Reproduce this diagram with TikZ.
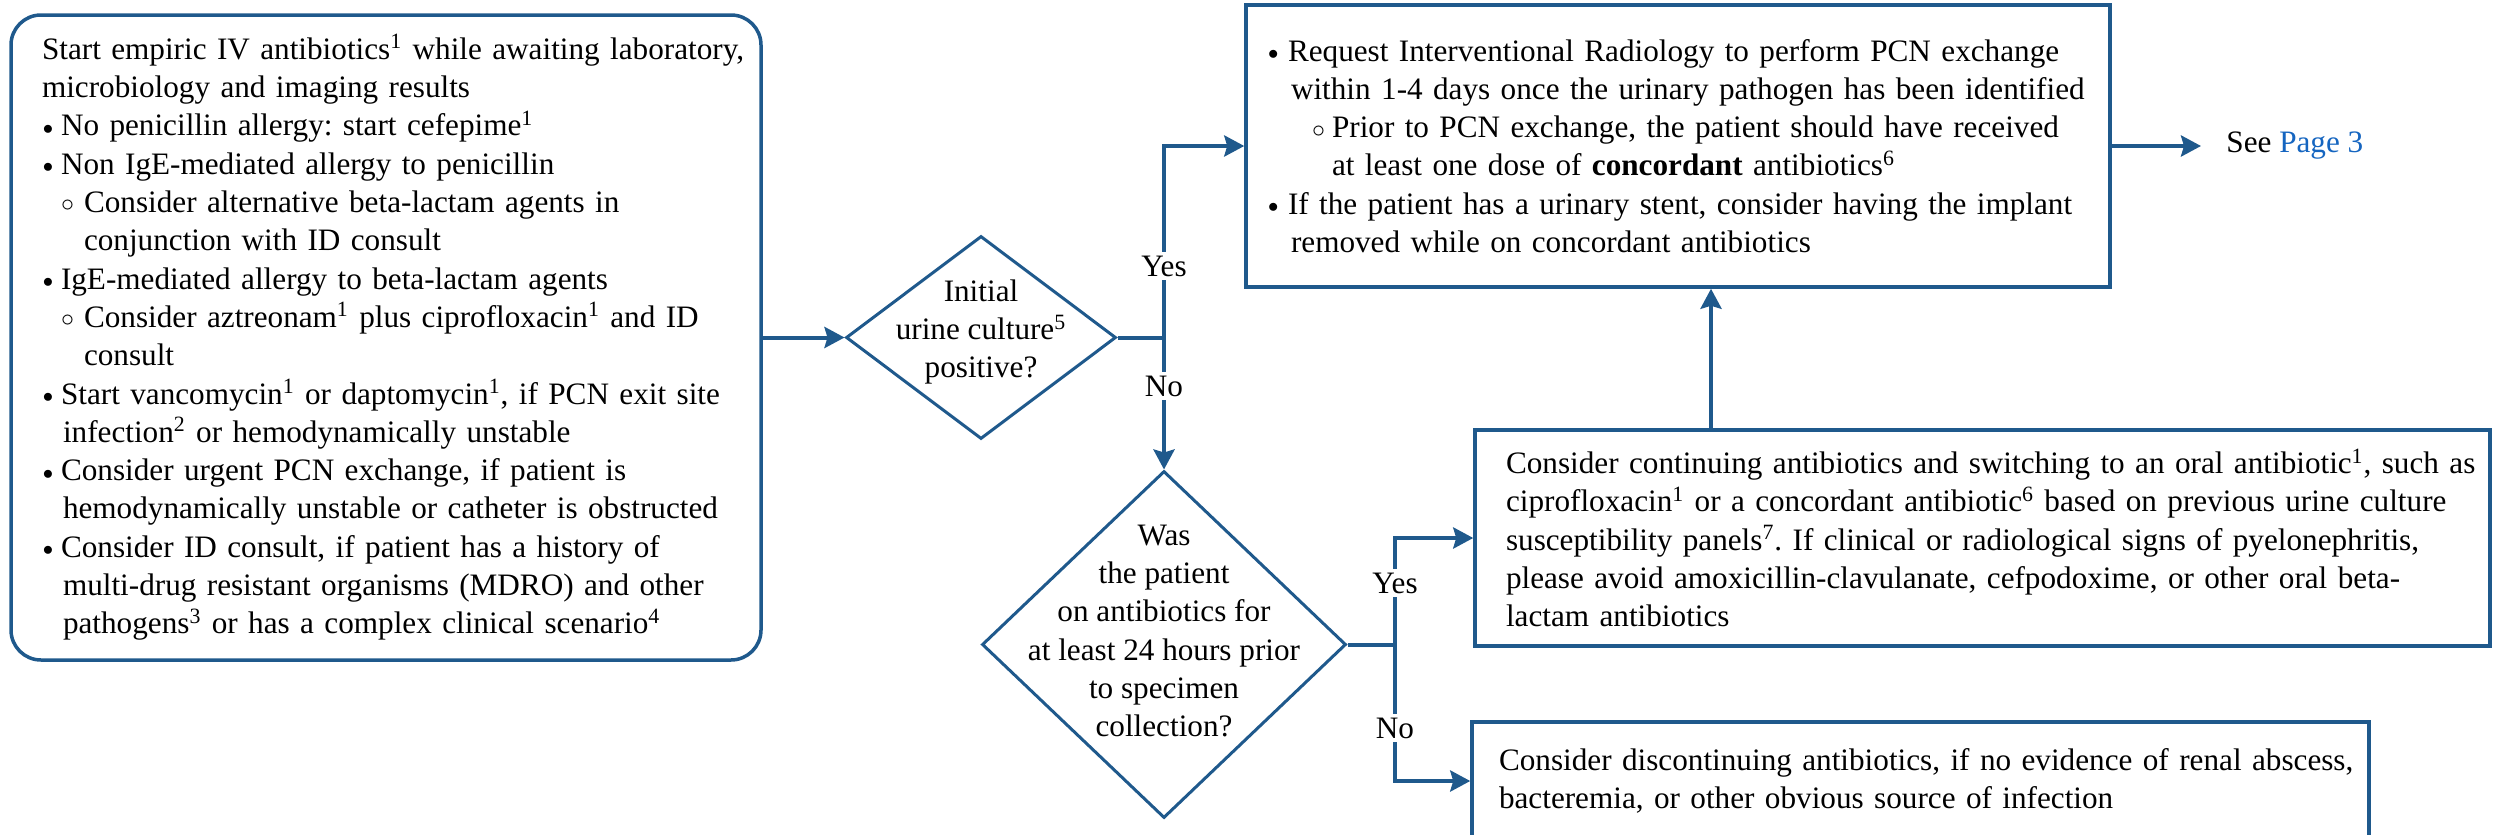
\documentclass[tikz,border=0pt]{standalone}
\usepackage{fontspec}
\setmainfont{Liberation Serif}
\usetikzlibrary{shapes.geometric,arrows.meta,calc}
\definecolor{flowblue}{RGB}{31,89,140}
\definecolor{linkblue}{RGB}{21,101,192}
\newcommand{\fsz}{\fontsize{15.6pt}{19.15pt}\selectfont\frenchspacing}
\newcommand{\mybul}{\raisebox{0.8pt}{\scalebox{0.72}{$\bullet$}}}
\newcommand{\mycirc}{\raisebox{0.3pt}{\scalebox{0.9}{$\circ$}}}
% left box line types
\newcommand{\LA}[1]{\mbox{#1}}
\newcommand{\LB}[1]{\mbox{\hspace*{0.5pt}\makebox[9pt][l]{\mybul}#1}}
\newcommand{\LC}[1]{\mbox{\hspace*{10.5pt}#1}}
\newcommand{\LD}[1]{\mbox{\hspace*{9.5pt}\makebox[11.5pt][l]{\mycirc}#1}}
\newcommand{\LE}[1]{\mbox{\hspace*{21pt}#1}}
% top box line types
\newcommand{\TB}[1]{\mbox{\makebox[10pt][l]{\mybul}#1}}
\newcommand{\TC}[1]{\mbox{\hspace*{11.5pt}#1}}
\newcommand{\TD}[1]{\mbox{\hspace*{22pt}\makebox[10pt][l]{\mycirc}#1}}
\newcommand{\TE}[1]{\mbox{\hspace*{32pt}#1}}
\newcommand{\sps}[1]{\textsuperscript{#1}}
\begin{document}
\begin{tikzpicture}[x=0.5pt,y=-0.5pt,
  box/.style={draw=flowblue, line width=1.75pt, rectangle, inner ysep=0pt, align=left, font=\fsz},
  roundbox/.style={box, rounded corners=15pt},
  dia/.style={draw=flowblue, line width=1.5pt, diamond, inner sep=0pt},
  conn/.style={draw=flowblue, line width=2pt},
  arr/.style={conn, -{Stealth[length=10pt,width=10.5pt,inset=1.5pt]}},
  lbl/.style={fill=white, inner sep=2pt, font=\fsz},
  dtext/.style={align=center, font=\fsz, inner sep=0pt}]

\useasboundingbox (0,0) rectangle (2505,835);

% left box
\node[roundbox, minimum width=375pt, minimum height=322.5pt, text width=344pt, inner xsep=15.5pt] (lb) at (386,337.5) {%
\LA{Start empiric IV antibiotics\sps{1} while awaiting laboratory,}\\
\LA{microbiology and imaging results}\\
\LB{No penicillin allergy: start cefepime\sps{1}}\\
\LB{Non IgE-mediated allergy to penicillin}\\
\LD{Consider alternative beta-lactam agents in}\\
\LE{conjunction with ID consult}\\
\LB{IgE-mediated allergy to beta-lactam agents}\\
\LD{Consider aztreonam\sps{1} plus ciprofloxacin\sps{1} and ID}\\
\LE{consult}\\
\LB{Start vancomycin\sps{1} or daptomycin\sps{1}, if PCN exit site}\\
\LC{infection\sps{2} or hemodynamically unstable}\\
\LB{Consider urgent PCN exchange, if patient is}\\
\LC{hemodynamically unstable or catheter is obstructed}\\
\LB{Consider ID consult, if patient has a history of}\\
\LC{multi-drug resistant organisms (MDRO) and other}\\
\LC{pathogens\sps{3} or has a complex clinical scenario\sps{4}}};

% top box
\node[box, minimum width=432pt, minimum height=141pt, text width=410pt, inner xsep=11pt] (b1) at (1678,146) {%
\TB{Request Interventional Radiology to perform PCN exchange}\\
\TC{within 1-4 days once the urinary pathogen has been identified}\\
\TD{Prior to PCN exchange, the patient should have received}\\
\TE{at least one dose of \textbf{concordant} antibiotics\sps{6}}\\
\TB{If the patient has a urinary stent, consider having the implant}\\
\TC{removed while on concordant antibiotics}};

% middle right box
\node[box, minimum width=507.5pt, minimum height=108pt, text width=476.5pt, inner xsep=15.5pt] (b2) at (1982.5,538) {%
\mbox{Consider continuing antibiotics and switching to an oral antibiotic\sps{1}, such as}\\
\mbox{ciprofloxacin\sps{1} or a concordant antibiotic\sps{6} based on previous urine culture}\\
\mbox{susceptibility panels\sps{7}. If clinical or radiological signs of pyelonephritis,}\\
\mbox{please avoid amoxicillin-clavulanate, cefpodoxime, or other oral beta-}\\
\mbox{lactam antibiotics}};

% bottom right box
\node[box, minimum width=448.5pt, minimum height=59pt, text width=421.5pt, inner xsep=13.5pt] (b3) at (1920.5,781) {%
\mbox{Consider discontinuing antibiotics, if no evidence of renal abscess,}\\
\mbox{bacteremia, or other obvious source of infection}};

% diamonds
\node[dia, minimum width=135pt, minimum height=101.5pt] (d1) at (981,337.5) {};
\node[dtext] (d1t) at (981,332) {Initial\\urine culture\sps{5}\\positive?};
\node[dia, minimum width=182pt, minimum height=173.5pt] (d2) at (1164,644.5) {};
\node[dtext] (d2t) at (1164,631) {Was\\the patient\\on antibiotics for\\at least 24 hours prior\\to specimen\\collection?};

% see page 3
\node[font=\fsz, anchor=west, inner xsep=12.5pt, inner ysep=0pt] (see) at (2201,146) {See \textcolor{linkblue}{Page 3}};

% junction coordinates
\coordinate (j1) at (1164,337.5);
\coordinate (j2) at (1395,644.5);
\coordinate (upx) at (1711,0);

% connectors
\draw[arr] (lb.east) -- (d1.west);
\draw[conn] (d1.east) -- (j1);
\draw[arr] (j1) |- (b1.west);
\draw[arr] (j1) -- (d2.north);
\draw[arr] (b1.east) -- (see.west);
\draw[arr] (b2.north -| upx) -- (b1.south -| upx);
\draw[conn] (d2.east) -- (j2);
\draw[arr] (j2) |- (b2.west);
\draw[arr] (j2) |- (b3.west);

% labels
\node[lbl] (yes1) at (1164,266) {Yes};
\node[lbl] (no1) at (1164,386) {No};
\node[lbl] (yes2) at (1395,583) {Yes};
\node[lbl] (no2) at (1395,728) {No};
\end{tikzpicture}
\end{document}
